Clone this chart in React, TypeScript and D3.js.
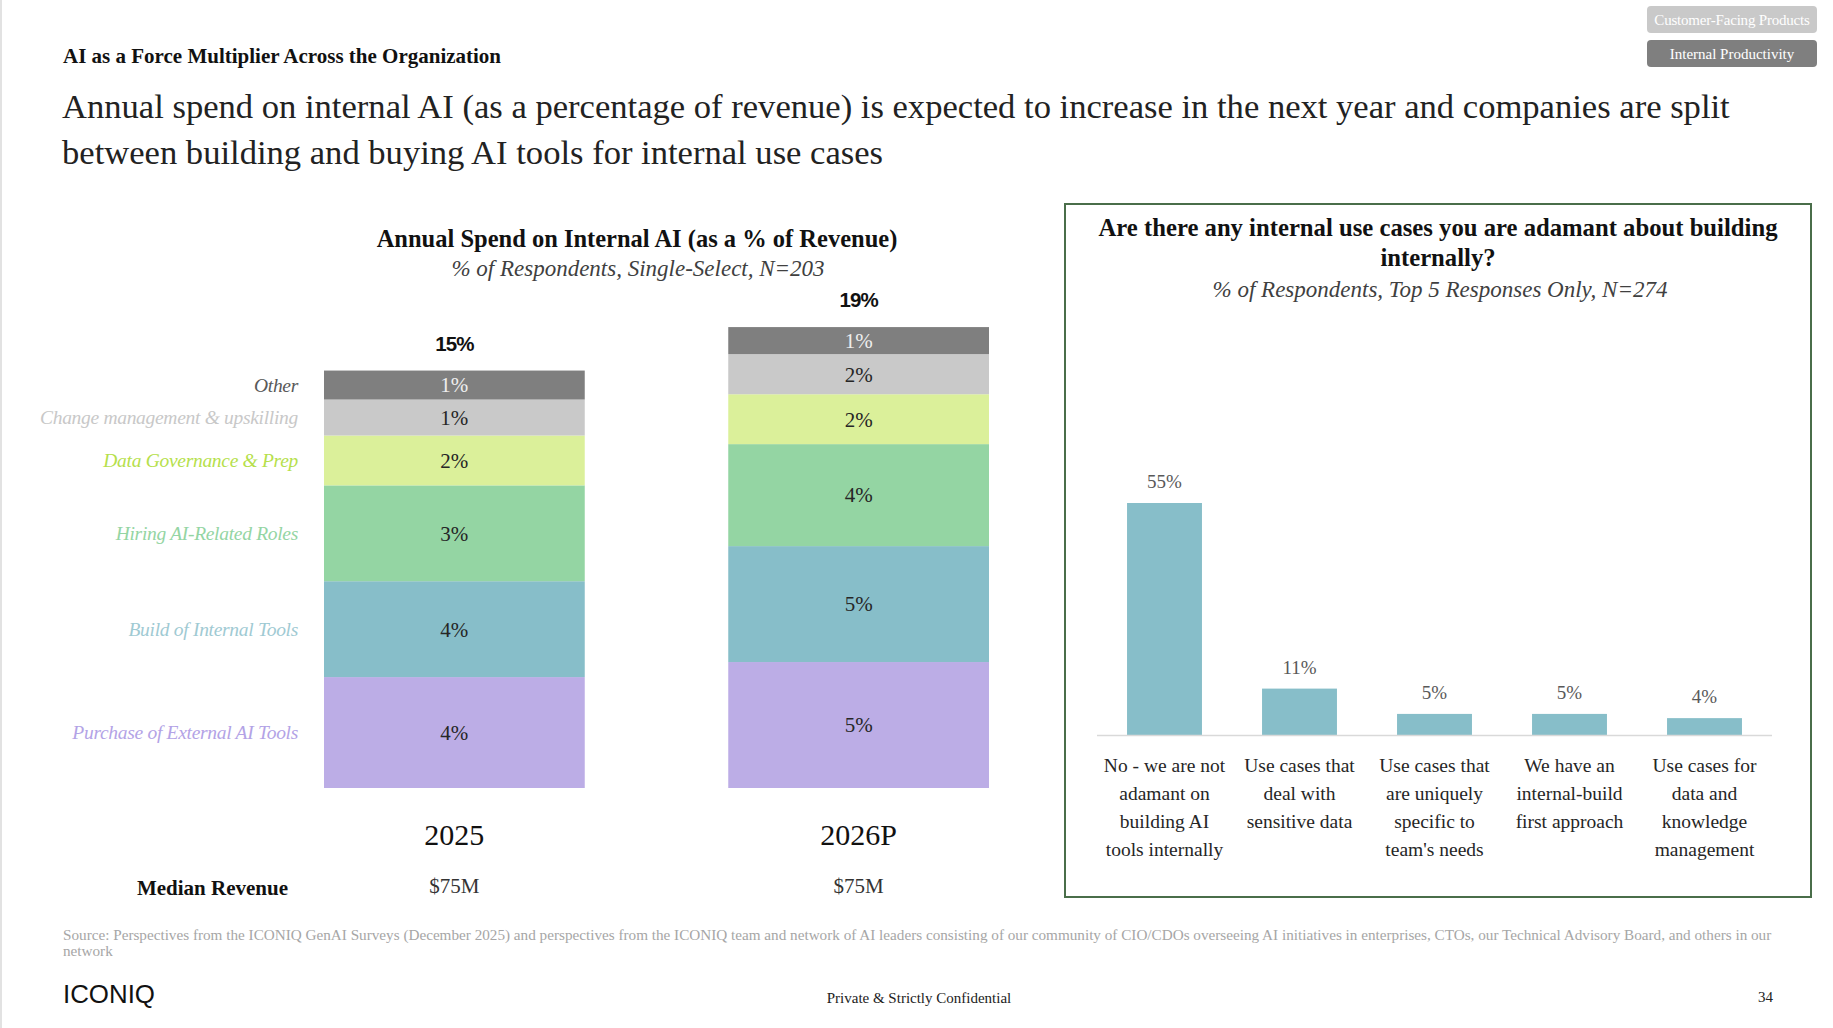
import React from 'react';
import * as d3 from 'd3';

const W = 1833;
const H = 1028;
const SERIF = "'Liberation Serif', 'DejaVu Serif', serif";
const SANS = "'Liberation Sans', Arial, sans-serif";

// left chart: stacked spend by category, bottom to top
const years = ['2025', '2026P'];
const spendCategories = [
  'Purchase of External AI Tools',
  'Build of Internal Tools',
  'Hiring AI-Related Roles',
  'Data Governance & Prep',
  'Change management & upskilling',
  'Other',
];
const spend2025 = [3.98, 3.44, 3.44, 1.79, 1.29, 1.04];
const spend2026 = [4.52, 4.16, 3.66, 1.79, 1.44, 0.97];
const labels2025 = ['4%', '4%', '3%', '2%', '1%', '1%'];
const labels2026 = ['5%', '5%', '4%', '2%', '2%', '1%'];
const totals = ['15%', '19%'];
const medianRevenue = ['$75M', '$75M'];

const segFill = ['#bcade6', '#87bec9', '#94d5a3', '#dbf09a', '#c9c9c9', '#7f7f7f'];
const legendColor = ['#b3a3e6', '#9fcad3', '#94d5a3', '#b6df4c', '#c8c8c8', '#595959'];
const segTextColor = ['#262626', '#262626', '#262626', '#262626', '#262626', '#eeeeee'];

// right chart: top 5 responses
const useCaseLines = [
  ['No - we are not', 'adamant on', 'building AI', 'tools internally'],
  ['Use cases that', 'deal with', 'sensitive data'],
  ['Use cases that', 'are uniquely', 'specific to', "team's needs"],
  ['We have an', 'internal-build', 'first approach'],
  ['Use cases for', 'data and', 'knowledge', 'management'],
];
const useCaseValues = [55, 11, 5, 5, 4];

const titleLines = [
  'Annual spend on internal AI (as a percentage of revenue) is expected to increase in the next year and companies are split',
  'between building and buying AI tools for internal use cases',
];
const sourceLines = [
  'Source: Perspectives from the ICONIQ GenAI Surveys (December 2025) and perspectives from the ICONIQ team and network of AI leaders consisting of our community of CIO/CDOs overseeing AI initiatives in enterprises, CTOs, our Technical Advisory Board, and others in our',
  'network',
];

const App: React.FC = () => {
  // stacked layout
  const rows = years.map((yr, i) => {
    const src = i === 0 ? spend2025 : spend2026;
    const r: any = { year: yr };
    spendCategories.forEach((c, j) => (r[c] = src[j]));
    return r;
  });
  const series = d3.stack<any>().keys(spendCategories)(rows);

  const x = d3.scaleBand().domain(years).range([324, 989]).paddingInner(0.355).paddingOuter(0);
  const y = d3.scaleLinear().domain([0, 15]).range([788, 370]);

  const xr = d3
    .scaleBand()
    .domain(useCaseLines.map((_, i) => String(i)))
    .range([1097, 1772])
    .paddingInner(0.445)
    .paddingOuter(0.2225);
  const yr = d3.scaleLinear().domain([0, 55]).range([735, 503]);

  const barTop = (i: number) => y(series[series.length - 1][i][1]);

  return (
    <div style={{ position: 'absolute', left: 0, top: 0 }}>
      <svg width={W} height={H} style={{ display: 'block', background: '#fff' }}>
        <line x1={1} x2={1} y1={0} y2={H} stroke="#d9d9d9" strokeWidth={1.5} />

        {/* top right tabs */}
        <rect x={1647} y={6} width={170} height={27} rx={4} fill="#c9c9c9" />
        <text x={1732} y={24.5} textAnchor="middle" fontFamily={SERIF} fontSize={15} fill="#fff" letterSpacing={-0.2}>
          Customer-Facing Products
        </text>
        <rect x={1647} y={40} width={170} height={27} rx={4} fill="#7f7f7f" />
        <text x={1732} y={58.5} textAnchor="middle" fontFamily={SERIF} fontSize={15} fill="#fff">
          Internal Productivity
        </text>

        {/* header */}
        <text x={63} y={63} fontFamily={SERIF} fontSize={21} fontWeight="bold" fill="#111">
          AI as a Force Multiplier Across the Organization
        </text>
        {titleLines.map((t, i) => (
          <text key={i} x={62} y={118 + i * 46} fontFamily={SERIF} fontSize={34.6} fill="#222">
            {t}
          </text>
        ))}

        {/* left chart */}
        <text x={637} y={247} textAnchor="middle" fontFamily={SERIF} fontSize={24.5} fontWeight="bold" fill="#111">
          Annual Spend on Internal AI (as a % of Revenue)
        </text>
        <text x={638} y={276} textAnchor="middle" fontFamily={SERIF} fontSize={23} fontStyle="italic" fill="#404040">
          % of Respondents, Single-Select, N=203
        </text>

        {series.map((s, j) => (
          <g key={spendCategories[j]}>
            {s.map((d, i) => (
              <rect
                key={i}
                x={x(years[i])}
                y={y(d[1])}
                width={x.bandwidth()}
                height={y(d[0]) - y(d[1])}
                fill={segFill[j]}
              />
            ))}
            {s.map((d, i) => (
              <text
                key={'t' + i}
                x={(x(years[i]) as number) + x.bandwidth() / 2}
                y={(y(d[0]) + y(d[1])) / 2}
                dy="0.35em"
                textAnchor="middle"
                fontFamily={SERIF}
                fontSize={21}
                fill={segTextColor[j]}
              >
                {(i === 0 ? labels2025 : labels2026)[j]}
              </text>
            ))}
            <text
              x={298}
              y={(y(s[0][0]) + y(s[0][1])) / 2}
              dy="0.35em"
              textAnchor="end"
              fontFamily={SERIF}
              fontSize={19.5}
              fontStyle="italic"
              fill={legendColor[j]}
              letterSpacing={-0.3}
            >
              {spendCategories[j]}
            </text>
          </g>
        ))}

        {years.map((yr0, i) => {
          const cx = (x(yr0) as number) + x.bandwidth() / 2;
          return (
            <g key={yr0}>
              <text x={cx} y={barTop(i) - 20} textAnchor="middle" fontFamily={SANS} fontSize={20.5} fontWeight="bold" fill="#111" letterSpacing={-1}>
                {totals[i]}
              </text>
              <text x={cx} y={845} textAnchor="middle" fontFamily={SERIF} fontSize={30} fill="#111">
                {yr0}
              </text>
              <text x={cx} y={893} textAnchor="middle" fontFamily={SERIF} fontSize={21} fill="#333">
                {medianRevenue[i]}
              </text>
            </g>
          );
        })}
        <text x={288} y={895} textAnchor="end" fontFamily={SERIF} fontSize={21} fontWeight="bold" fill="#111">
          Median Revenue
        </text>

        {/* right panel */}
        <rect x={1065} y={204} width={746} height={693} fill="none" stroke="#4a6e4a" strokeWidth={2} />
        <text x={1438} y={236} textAnchor="middle" fontFamily={SERIF} fontSize={24.7} fontWeight="bold" fill="#111">
          Are there any internal use cases you are adamant about building
        </text>
        <text x={1438} y={266} textAnchor="middle" fontFamily={SERIF} fontSize={24.7} fontWeight="bold" fill="#111">
          internally?
        </text>
        <text x={1440} y={297} textAnchor="middle" fontFamily={SERIF} fontSize={23} fontStyle="italic" fill="#404040">
          % of Respondents, Top 5 Responses Only, N=274
        </text>

        {useCaseValues.map((v, i) => {
          const bx = xr(String(i)) as number;
          const cx = bx + xr.bandwidth() / 2;
          return (
            <g key={i}>
              <rect x={bx} y={yr(v)} width={xr.bandwidth()} height={yr(0) - yr(v)} fill="#87bec9" />
              <text x={cx} y={yr(v) - 15} textAnchor="middle" fontFamily={SERIF} fontSize={19} fill="#595959">
                {v}%
              </text>
              {useCaseLines[i].map((ln, k) => (
                <text key={k} x={cx} y={772 + k * 28} textAnchor="middle" fontFamily={SERIF} fontSize={19.5} fill="#262626">
                  {ln}
                </text>
              ))}
            </g>
          );
        })}
        <line x1={1097} x2={1772} y1={yr(0) + 0.5} y2={yr(0) + 0.5} stroke="#d9d9d9" strokeWidth={1.5} />

        {/* footer */}
        {sourceLines.map((t, i) => (
          <text key={i} x={63} y={940 + i * 16} fontFamily={SERIF} fontSize={15.2} fill="#a6a6a6">
            {t}
          </text>
        ))}
        <text x={63} y={1003} fontFamily={SANS} fontSize={25} fill="#111" textLength={92} lengthAdjust="spacingAndGlyphs">
          ICONIQ
        </text>
        <text x={919} y={1003} textAnchor="middle" fontFamily={SERIF} fontSize={15} fill="#222">
          Private &amp; Strictly Confidential
        </text>
        <text x={1773} y={1002} textAnchor="end" fontFamily={SERIF} fontSize={15} fill="#222">
          34
        </text>
      </svg>
    </div>
  );
};

export default App;
